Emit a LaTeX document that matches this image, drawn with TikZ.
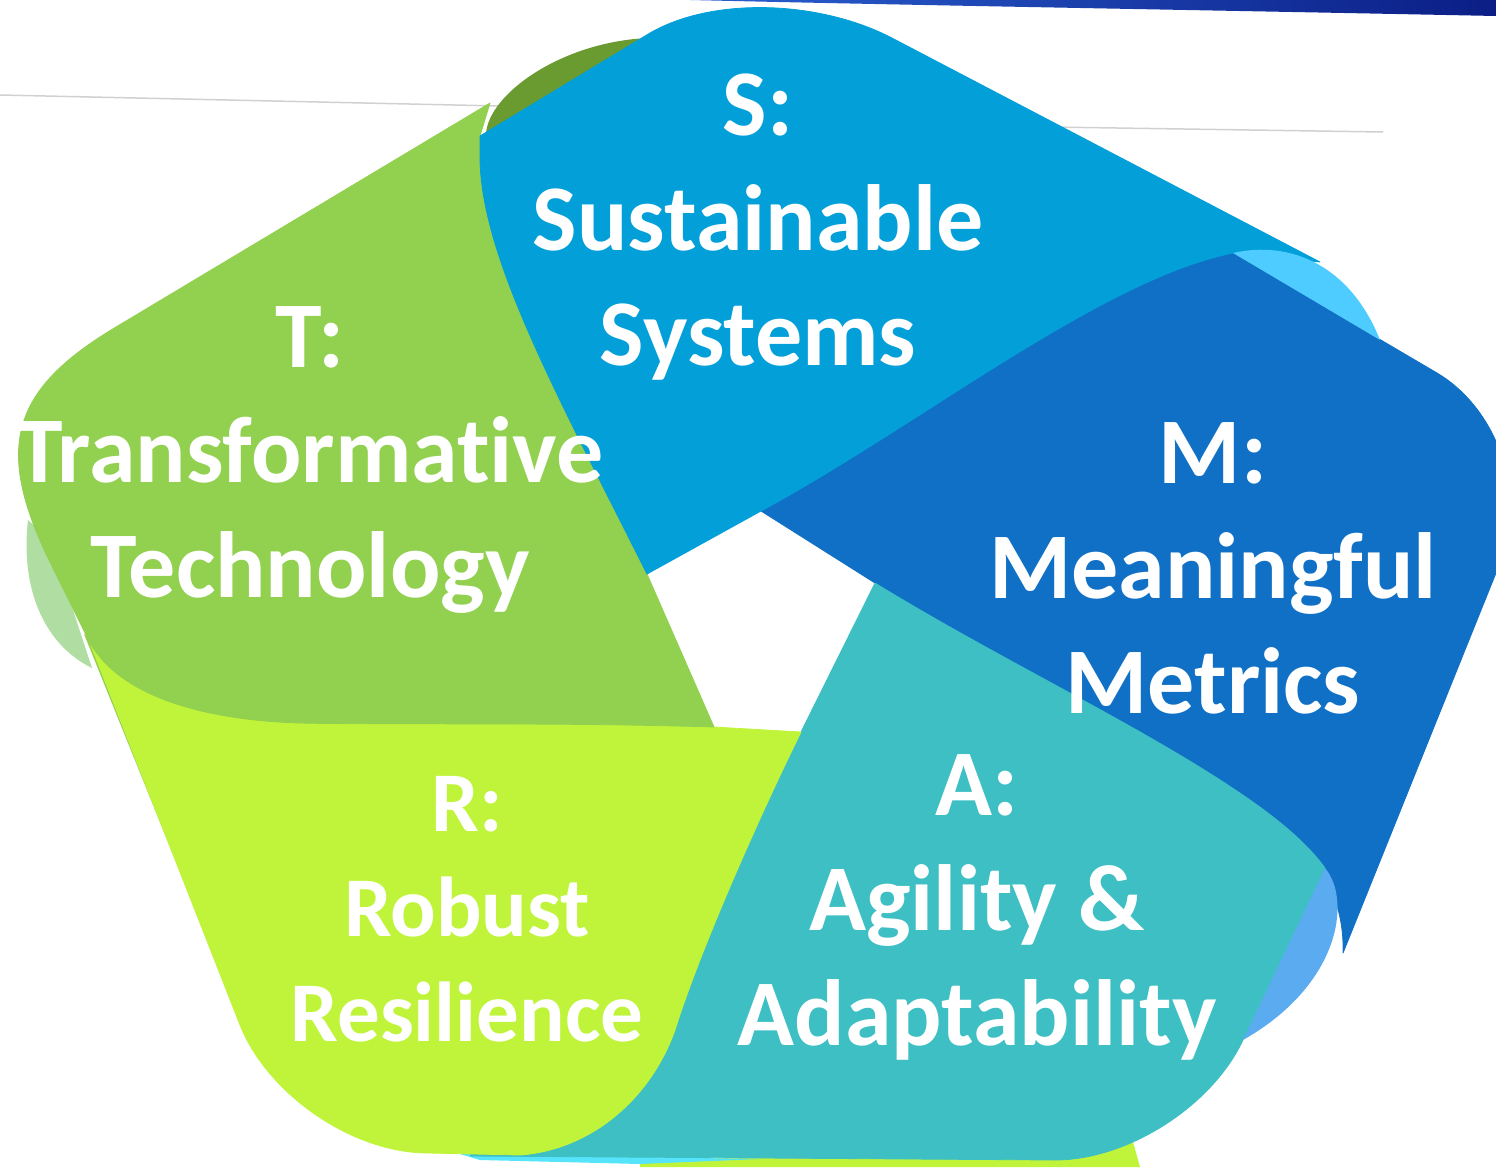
\documentclass[tikz,border=0pt]{standalone}
\usepackage{fontspec}
\setmainfont{Carlito}[Ligatures=NoCommon]
\definecolor{sBlue}{HTML}{039FD9}
\definecolor{mBlue}{HTML}{1070C5}
\definecolor{aTeal}{HTML}{3DBFC4}
\definecolor{rLime}{HTML}{C0F43A}
\definecolor{tGreen}{HTML}{92D050}
\definecolor{tDark}{HTML}{6A9B30}
\definecolor{tPale}{HTML}{B0DDA2}
\definecolor{sTint}{HTML}{4ECBFF}
\definecolor{mTint}{HTML}{5AABF0}
\definecolor{aTint}{HTML}{55E4FA}
\definecolor{bandDark}{HTML}{0B1E86}
\definecolor{bandLight}{HTML}{2A5FD0}
\begin{document}
\begin{tikzpicture}[x=1pt,y=-1pt,
  petal/.style={fill=#1,draw=#1,line width=0.8pt,line join=round},
  rule/.style={draw=black!18,line width=1.5pt},
  caption/.style={text=white,font=\bfseries\fontsize{94}{115}\selectfont,
    align=center,anchor=base,inner sep=0pt},
  smallcaption/.style={caption,font=\bfseries\fontsize{85}{105}\selectfont}]
\useasboundingbox (0,0) rectangle (1496,1167);
\clip (0,0) rectangle (1496,1167);

% faint background rules and the top band
\draw[rule] (0,95) -- (500,106);
\draw[rule] (1050,127) -- (1383,132);
\shade[left color=bandLight,right color=bandDark]
  (690,0) .. controls (900,5) and (1200,10) .. (1496,16) -- (1496,0) -- cycle;

% curled backs that sit underneath the petals
\fill[tPale] (28,520) .. controls (20,590) and (45,645) .. (92,668) -- (50,540) -- cycle;
\fill[tGreen] (84,634) -- (172,852) -- (100,645) -- cycle;
\fill[rLime] (640,1162) -- (1132,1138) -- (1140,1167) -- (640,1167) -- cycle;
\fill[aTint] (460,1154) -- (760,1159) -- (640,1164) -- (480,1160) -- cycle;

% M: Meaningful Metrics
\path[petal=mBlue] (761,511) .. controls (920,425) and (1100,280) .. (1233,253)
  -- (1437,373) .. controls (1499,410) and (1527,496) .. (1500,563)
  -- (1343,953) .. controls (1345,890) and (1310,842) .. (1250,800)
  .. controls (1150,730) and (1000,660) .. (875,583) -- cycle;

% A: Agility & Adaptability
\path[petal=aTeal] (875,583) .. controls (1000,660) and (1150,730) .. (1250,800)
  .. controls (1290,828) and (1312,850) .. (1325,868)
  -- (1243,1040) .. controls (1212,1106) and (1128,1160) .. (1055,1160)
  -- (470,1156) -- (801,732) -- cycle;
\fill[mTint] (1325,868) .. controls (1352,900) and (1340,985) .. (1243,1040) -- cycle;

% R: Robust Resilience
\path[petal=rLime] (801,732) -- (714,727)
  .. controls (550,722) and (380,725) .. (300,723)
  .. controls (200,720) and (120,695) .. (90,643)
  -- (240,1025) .. controls (268,1095) and (353,1153) .. (428,1153)
  -- (520,1155) .. controls (590,1150) and (650,1100) .. (675,1030)
  .. controls (700,950) and (760,815) .. (801,732) -- cycle;

% T: Transformative Technology
\path[petal=tGreen] (714,727) -- (647,574)
  .. controls (560,400) and (482,260) .. (480,160) -- (480,136) -- (490,103)
  -- (116,327) .. controls (12,389) and (-5,446) .. (47,556) -- (90,643)
  .. controls (120,695) and (200,720) .. (300,723)
  .. controls (380,725) and (550,722) .. (714,727) -- cycle;
\fill[tDark] (486,134) .. controls (488,95) and (560,42) .. (648,38) -- (486,136) -- cycle;

% S: Sustainable Systems
\path[petal=sBlue] (647,574) -- (761,511)
  .. controls (920,425) and (1100,280) .. (1233,253) -- (1320,262)
  -- (890,37) .. controls (817,0) and (712,-3) .. (650,33) -- (480,136)
  -- (480,160) .. controls (482,260) and (560,400) .. (647,574) -- cycle;
\fill[sTint] (1233,253) .. controls (1290,240) and (1350,265) .. (1380,340) -- cycle;

% labels (anchored at the baseline of their last line)
\node[caption] (sLabel) at (758,365) {S:\\Sustainable\\Systems};
\node[caption] (tLabel) at (310,597) {T:\\Transformative\\Technology};
\node[caption] (mLabel) at (1213,713) {M:\\Meaningful\\Metrics};
\node[caption] (aLabel) at (977,1045) {A:\\Agility \&\\Adaptability};
\node[smallcaption] (rLabel) at (467,1041) {R:\\Robust\\Resilience};
\end{tikzpicture}
\end{document}
